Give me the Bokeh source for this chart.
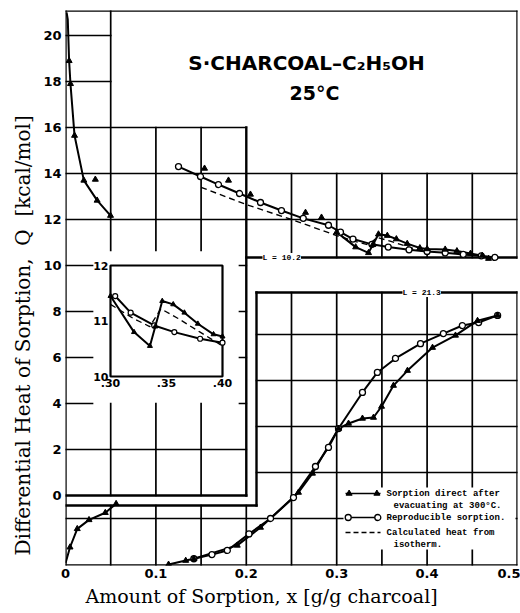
import math
from bokeh.plotting import figure
from bokeh.models import Range1d, Label, FixedTicker, ColumnDataSource, Title
from bokeh.core.properties import value
from bokeh.embed import file_html
from bokeh.resources import INLINE

# ---------------- data ----------------
# differential heat Q [kcal/mol] against amount sorbed x [g/g charcoal]
# reproducible sorption (open circles), upper curve
rep_hi_x = [0.125, 0.1493, 0.1692, 0.1925, 0.2157, 0.2389, 0.2630, 0.2909, 0.3042,
            0.318, 0.339, 0.357, 0.380, 0.400, 0.420, 0.440, 0.460, 0.475]
rep_hi_q = [14.30, 13.87, 13.52, 13.13, 12.74, 12.39, 12.05, 11.75, 11.45,
            11.15, 10.92, 10.80, 10.68, 10.61, 10.55, 10.48, 10.42, 10.35]
# sorption direct after evacuation (filled triangles), upper curve with the dip
dir_hi_x = [0.300, 0.321, 0.3352, 0.340, 0.3462, 0.356, 0.366, 0.378, 0.392,
            0.400, 0.420, 0.433, 0.448, 0.461, 0.468]
dir_hi_q = [11.45, 10.80, 10.55, 10.90, 11.36, 11.30, 11.15, 10.95, 10.76,
            10.72, 10.70, 10.63, 10.52, 10.43, 10.30]
# isolated direct-sorption points
dir_pts_x = [0.033, 0.1538, 0.1803, 0.2046, 0.2655, 0.2832]
dir_pts_q = [13.74, 14.22, 13.70, 13.09, 12.30, 12.09]
# direct sorption, steep initial fall
dir_fall_x = [0.0012, 0.0025, 0.004, 0.0055, 0.010, 0.0203, 0.035, 0.0498]
dir_fall_q = [21.00, 20.70, 18.90, 17.90, 15.65, 13.70, 12.83, 12.17]
# calculated heat from isotherm (dashed)
calc_x = [0.15, 0.20, 0.25, 0.30, 0.32, 0.335, 0.345, 0.36, 0.38, 0.40]
calc_q = [13.40, 12.65, 12.00, 11.30, 11.05, 10.90, 11.22, 11.05, 10.80, 10.55]
# lower curves
dir_strip_x = [0.0, 0.005, 0.013, 0.026, 0.044, 0.056]
dir_strip_q = [-2.95, -2.25, -1.45, -1.06, -0.75, -0.36]
dir_lo_x = [0.114, 0.133, 0.142, 0.190, 0.2157, 0.2577, 0.2732, 0.302, 0.3131, 0.3285,
            0.3407, 0.3496, 0.3628, 0.3783, 0.406, 0.4314, 0.4558, 0.4779]
dir_lo_q = [-3.00, -2.83, -2.75, -2.17, -1.39, 0.13, 0.96, 2.91, 3.13, 3.35,
            3.39, 3.87, 4.78, 5.43, 6.43, 6.96, 7.60, 7.83]
rep_lo_x = [0.142, 0.162, 0.179, 0.203, 0.2268, 0.2522, 0.2765, 0.2909, 0.302, 0.3285,
            0.345, 0.365, 0.3927, 0.418, 0.439, 0.457, 0.478]
rep_lo_q = [-2.75, -2.57, -2.39, -1.67, -1.00, -0.09, 1.26, 2.09, 2.91, 4.48,
            5.35, 5.96, 6.60, 7.04, 7.39, 7.52, 7.83]

x_ticks = [0, 0.1, 0.2, 0.3, 0.4, 0.5]
y_ticks = [0, 2, 4, 6, 8, 10, 12, 14, 16, 18, 20]
inset_x_ticks = [0.30, 0.35, 0.40]
inset_x_labels = [".30", ".35", ".40"]
inset_y_ticks = [10, 11, 12]
inset_y_labels = ["10", "11", "12"]
legend_lines = ["Sorption direct after", "evacuating at 300°C.", "Reproducible sorption.",
                "Calculated heat from", "isotherm."]

# ---------------- layout helpers (pixel -> main data units) ----------------
def X(px):
    return (px - 65) / 904.0

def Q(py):
    return (495 - py) / 23.0

XL, XR = 0.0, 0.5
YB, YT = Q(565), Q(10)
A_BOT = Q(257)
B_RIGHT = 0.2
C_LEFT = X(256)
C_TOP = Q(292)
STRIP_TOP = Q(505)
INS_X0, INS_X1 = X(110), X(222)
INS_Y0, INS_Y1 = Q(376), Q(265)
IX = (0.30, 0.40)
IY = (10.0, 12.0)

p = figure(frame_width=452, frame_height=555, x_range=Range1d(XL, XR),
           y_range=Range1d(YB, YT), output_backend="svg", toolbar_location=None,
           min_border_left=65, min_border_right=3, min_border_top=10, min_border_bottom=48)
p.outline_line_color = None
p.xgrid.grid_line_color = None
p.ygrid.grid_line_color = None
p.background_fill_color = "white"

# inset ranges mapped onto the inset box
kx = (IX[1] - IX[0]) / (INS_X1 - INS_X0)
ky = (IY[1] - IY[0]) / (INS_Y1 - INS_Y0)
p.extra_x_ranges = {"ix": Range1d(IX[0] - (INS_X0 - XL) * kx, IX[0] + (XR - INS_X0) * kx)}
p.extra_y_ranges = {"iy": Range1d(IY[0] - (INS_Y0 - YB) * ky, IY[0] + (YT - INS_Y0) * ky)}

# axes
for ax in (p.xaxis[0], p.yaxis[0]):
    ax.axis_line_color = None
    ax.major_tick_line_color = None
    ax.minor_tick_line_color = None
    ax.major_tick_out = 0
    ax.major_tick_in = 0
    ax.minor_tick_out = 0
    ax.minor_tick_in = 0
    ax.major_label_text_font = "DejaVu Sans"
    ax.major_label_text_font_style = "bold"
    ax.major_label_text_font_size = "13px"
    ax.major_label_text_color = "black"
p.xaxis.ticker = FixedTicker(ticks=x_ticks)
p.yaxis.ticker = FixedTicker(ticks=y_ticks)
p.xaxis.major_label_overrides = {0: "0"}
p.xaxis.major_label_standoff = 3
p.yaxis.major_label_standoff = 4

# axis titles
p.add_layout(Title(text="Amount of Sorption, x [g/g charcoal]", align="left", offset=20,
                   text_font="DejaVu Serif", text_font_style="normal", text_font_size="19px",
                   text_color="black", standoff=4), "below")
p.add_layout(Title(text="Differential Heat of Sorption,\u00a0\u00a0Q\u00a0\u00a0[kcal/mol]",
                   align="left", offset=10, text_font="DejaVu Serif",
                   text_font_style="normal", text_font_size="20px", text_color="black",
                   standoff=11), "left")

# ---------------- panel borders and grid ----------------
BW, GW = 2.4, 1.7
segs = []

def H(y, xa, xb, w=GW):
    segs.append((xa, y, xb, y, w))

def V(x, ya, yb, w=GW):
    segs.append((x, ya, x, yb, w))

# upper panel
V(XL, YB, YT, BW)
H(YT, XL, XR, BW)
V(XR, A_BOT, YT, BW)
H(A_BOT, B_RIGHT, XR, BW)
H(20, 0, 0.05); H(18, 0, 0.05); H(16, 0, 0.2); H(14, 0, 0.5); H(12, 0, 0.5)
V(0.05, Q(250), YT); V(0.10, Q(250), 16); V(0.15, Q(250), 16)
V(0.2, 0, 16, BW)
for xv in (0.25, 0.30, 0.35, 0.40, 0.45):
    V(xv, A_BOT, 14)
# left middle panel
H(2, 0, 0.2)
H(0, 0, 0.2, BW)
for xv in (0.05, 0.10, 0.15):
    V(xv, 0, 4)
for qv in (4, 6, 8, 10):
    H(qv, 0, X(92))
    H(qv, X(239), 0.2)
# lower panel (with the strip on the left)
H(C_TOP, C_LEFT, XR, BW)
V(C_LEFT, STRIP_TOP, C_TOP, BW)
H(STRIP_TOP, XL, C_LEFT, BW)
V(XR, YB, C_TOP, BW)
H(YB, XL, XR, BW)
for qv in (1, 3, 5, 7):
    H(qv, C_LEFT, XR)
H(-1, XL, XR)
for xv in (0.25, 0.30, 0.35, 0.40, 0.45):
    V(xv, YB, C_TOP)
for xv in (0.05, 0.10, 0.15, 0.20):
    V(xv, YB, STRIP_TOP)

src = ColumnDataSource(dict(x0=[s[0] for s in segs], y0=[s[1] for s in segs],
                            x1=[s[2] for s in segs], y1=[s[3] for s in segs],
                            w=[s[4] for s in segs]))
p.segment(x0="x0", y0="y0", x1="x1", y1="y1", line_width="w", line_color="black",
          line_cap="square", source=src)

# white legend background and inset box
p.quad(left=[X(343)], right=[X(515)], bottom=[Q(549)], top=[Q(487)],
       fill_color="white", line_color=None)
p.quad(left=[INS_X0], right=[INS_X1], bottom=[INS_Y0], top=[INS_Y1],
       fill_color="white", line_color="black", line_width=2.2)

# ---------------- curves (main) ----------------
LW = 2.0
TS = 6
CS = 6

def dir_marks(xs, qs, **kw):
    p.scatter(xs, qs, marker="triangle", size=TS, fill_color="black", line_color="black", **kw)

def rep_marks(xs, qs, **kw):
    p.scatter(xs, qs, marker="circle", size=CS, fill_color="white", line_color="black",
              line_width=1.3, **kw)

p.line(calc_x, calc_q, line_color="black", line_width=1.4, line_dash="6 4")
p.line(rep_hi_x, rep_hi_q, line_color="black", line_width=LW)
p.line(dir_hi_x, dir_hi_q, line_color="black", line_width=LW)
p.line(dir_fall_x, dir_fall_q, line_color="black", line_width=LW)
p.line(dir_strip_x, dir_strip_q, line_color="black", line_width=LW)
p.line(dir_lo_x, dir_lo_q, line_color="black", line_width=LW)
p.line(rep_lo_x, rep_lo_q, line_color="black", line_width=LW)
rep_marks(rep_hi_x, rep_hi_q)
rep_marks(rep_lo_x, rep_lo_q)
dir_marks(dir_hi_x, dir_hi_q)
dir_marks(dir_pts_x, dir_pts_q)
dir_marks(dir_fall_x[2:], dir_fall_q[2:])
dir_marks(dir_strip_x[1:], dir_strip_q[1:])
dir_marks(dir_lo_x, dir_lo_q)

# ---------------- inset (0.30-0.40, 10-12) ----------------
def in_window(xs, qs):
    pts = [(a, b) for a, b in zip(xs, qs) if IX[0] - 0.001 <= a <= IX[1] + 0.001]
    return [a for a, _ in pts], [b for _, b in pts]

ik = dict(x_range_name="ix", y_range_name="iy")
cx, cq = in_window(calc_x, calc_q)
p.line(cx, cq, line_color="black", line_width=1.3, line_dash="6 4", **ik)
rx, rq = in_window(rep_hi_x, rep_hi_q)
p.line(rx, rq, line_color="black", line_width=LW, **ik)
dx, dq = in_window(dir_hi_x, dir_hi_q)
p.line(dx, dq, line_color="black", line_width=LW, **ik)
p.scatter(rx, rq, marker="circle", size=5, fill_color="white", line_color="black",
          line_width=1.2, **ik)
p.scatter(dx, dq, marker="triangle", size=5, fill_color="black", line_color="black", **ik)
p.text(x=[IX[0]] * 3, y=inset_y_ticks, text=inset_y_labels, text_align="right",
       text_baseline="middle", x_offset=-2, text_font=value("DejaVu Sans"),
       text_font_style="bold", text_font_size="11px", text_color="black", **ik)
p.text(x=inset_x_ticks, y=[IY[0]] * 3, text=inset_x_labels, text_align="center",
       text_baseline="top", y_offset=2, text_font=value("DejaVu Sans"),
       text_font_style="bold", text_font_size="11px", text_color="black", **ik)

# ---------------- legend ----------------
lx0, lx1 = X(345), X(380)
r1, r1b, r2, r3, r3b = Q(493), Q(505), Q(517), Q(532), Q(544)
p.segment(x0=[lx0, lx0], y0=[r1, r2], x1=[lx1, lx1], y1=[r1, r2],
          line_color="black", line_width=1.6)
p.segment(x0=[lx0], y0=[r3], x1=[lx1], y1=[r3], line_color="black", line_width=1.4,
          line_dash="5 3")
p.scatter([lx0 + 0.004, lx1 - 0.004], [r1, r1], marker="triangle", size=6,
          fill_color="black", line_color="black")
p.scatter([lx0 + 0.003, lx1 - 0.003], [r2, r2], marker="circle", size=6,
          fill_color="white", line_color="black", line_width=1.3)
p.text(x=[X(386), X(393), X(386), X(386), X(393)], y=[r1, r1b, r2, r3, r3b],
       text=legend_lines, text_baseline="middle", text_align="left",
       text_font=value("Liberation Mono"), text_font_style="bold", text_font_size="9px",
       text_color="black")

# ---------------- texts ----------------
p.add_layout(Label(x=X(306), y=Q(62), text="S·CHARCOAL–C₂H₅OH", text_align="center",
                   text_baseline="middle", text_font="DejaVu Sans", text_font_style="bold",
                   text_font_size="20px", text_color="black"))
p.add_layout(Label(x=X(314), y=Q(92), text="25°C", text_align="center",
                   text_baseline="middle", text_font="DejaVu Sans", text_font_style="bold",
                   text_font_size="19px", text_color="black"))
p.add_layout(Label(x=X(262), y=A_BOT, text="L = 10.2", text_align="left",
                   text_baseline="middle", text_font="Liberation Mono", text_font_style="bold",
                   text_font_size="8px", text_color="black", background_fill_color="white"))
p.add_layout(Label(x=X(402), y=C_TOP, text="L = 21.3", text_align="left",
                   text_baseline="middle", text_font="Liberation Mono", text_font_style="bold",
                   text_font_size="8px", text_color="black", background_fill_color="white"))

open("out.html", "w").write(file_html(p, INLINE))
